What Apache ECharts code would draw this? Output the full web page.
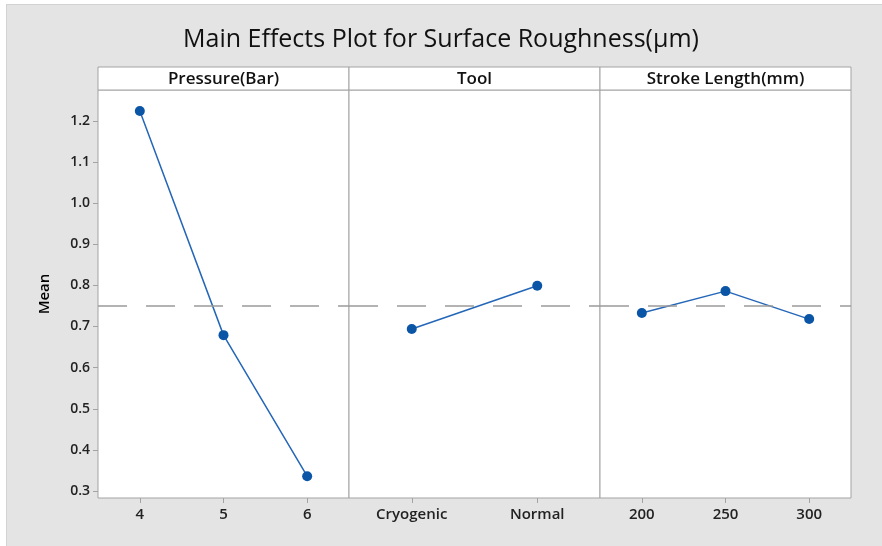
<!DOCTYPE html>
<html>
<head>
<meta charset="utf-8">
<title>Main Effects Plot</title>
<script src="https://cdn.jsdelivr.net/npm/echarts@6/dist/echarts.min.js"></script>
<style>
  html, body { margin: 0; padding: 0; background: #ffffff; }
  #chart { width: 882px; height: 546px; }
</style>
</head>
<body>
<div id="chart"></div>
<script>
// factor levels
const pressureLevels = ['4', '5', '6'];
const toolLevels = ['Cryogenic', 'Normal'];
const strokeLevels = ['200', '250', '300'];

// mean surface roughness per level
const pressureMeans = [1.224, 0.679, 0.336];
const toolMeans = [0.694, 0.799];
const strokeMeans = [0.733, 0.786, 0.718];

const panelTitles = ['Pressure(Bar)', 'Tool', 'Stroke Length(mm)'];
const yTicks = [0.3, 0.4, 0.5, 0.6, 0.7, 0.8, 0.9, 1.0, 1.1, 1.2];

// grand mean (dashed reference line)
const grandMean = pressureMeans.reduce((a, b) => a + b, 0) / pressureMeans.length;

const chart = echarts.init(document.getElementById('chart'));

const lefts = [98, 349, 600];
const panelW = 251;
const gridTop = 90;
const gridBottom = 48;
const lineColor = '#a3a3a3';
const fontFam = '"Open Sans", "Noto Sans", sans-serif';

const grids = [];
const xAxes = [];
const yAxes = [];
const series = [];
const headers = [];
const levelsList = [pressureLevels, toolLevels, strokeLevels];
const meansList = [pressureMeans, toolMeans, strokeMeans];

for (let i = 0; i < 3; i++) {
    grids.push({
        left: lefts[i], top: gridTop, width: panelW, bottom: gridBottom,
        show: true, backgroundColor: '#ffffff', borderColor: lineColor, borderWidth: 1
    });
    xAxes.push({
        type: 'category', gridIndex: i, data: levelsList[i], boundaryGap: true,
        axisLine: { show: false },
        axisTick: { show: true, alignWithLabel: true, length: 5, lineStyle: { color: lineColor } },
        axisLabel: { color: '#222', fontSize: 15, fontWeight: 600, margin: 9, fontFamily: fontFam },
        splitLine: { show: false }
    });
    yAxes.push({
        type: 'value', gridIndex: i, min: 0.283, max: 1.275,
        name: i === 0 ? 'Mean' : '',
        nameLocation: 'middle', nameGap: 46, nameRotate: 90,
        nameTextStyle: { color: '#000', fontSize: 15, fontWeight: 600, fontFamily: fontFam },
        axisLine: { show: false },
        axisTick: { show: i === 0, length: 5, customValues: yTicks, lineStyle: { color: lineColor } },
        axisLabel: {
            show: i === 0, customValues: yTicks, color: '#222', fontSize: 14, fontWeight: 600, margin: 8,
            fontFamily: fontFam, formatter: v => v.toFixed(1)
        },
        splitLine: { show: false }
    });
    series.push({
        type: 'line', xAxisIndex: i, yAxisIndex: i, data: meansList[i],
        symbol: 'circle', symbolSize: 10,
        lineStyle: { color: '#2466b8', width: 1.5 },
        itemStyle: { color: '#0a55a6' },
        markLine: {
            silent: true, symbol: 'none', label: { show: false },
            lineStyle: { color: '#9a9a9a', type: [29, 19], width: 1.5 },
            data: [{ yAxis: grandMean }]
        }
    });
    headers.push({
        type: 'rect', shape: { x: lefts[i], y: 67, width: panelW, height: 23 },
        style: { fill: '#ffffff', stroke: lineColor, lineWidth: 1 }
    });
    headers.push({
        type: 'text', x: lefts[i] + panelW / 2, y: 79,
        style: {
            text: panelTitles[i], fill: '#111', font: '600 17px ' + fontFam,
            textAlign: 'center', textVerticalAlign: 'middle'
        }
    });
}

chart.setOption({
    backgroundColor: '#e4e4e4',
    animation: false,
    title: {
        text: 'Main Effects Plot for Surface Roughness(μm)',
        left: 'center', top: 22,
        textStyle: { color: '#111', fontSize: 25, fontWeight: 500, fontFamily: fontFam }
    },
    graphic: [
        { type: 'rect', shape: { x: 0, y: 0, width: 882, height: 4 }, style: { fill: '#ffffff' } },
        { type: 'rect', shape: { x: 0, y: 0, width: 6, height: 546 }, style: { fill: '#ffffff' } },
        { type: 'line', shape: { x1: 6.5, y1: 4, x2: 6.5, y2: 546 }, style: { stroke: '#d2d2d2', lineWidth: 1 } },
        { type: 'line', shape: { x1: 6, y1: 4.5, x2: 882, y2: 4.5 }, style: { stroke: '#d2d2d2', lineWidth: 1 } }
    ].concat(headers),
    grid: grids,
    xAxis: xAxes,
    yAxis: yAxes,
    series: series
});
</script>
</body>
</html>
